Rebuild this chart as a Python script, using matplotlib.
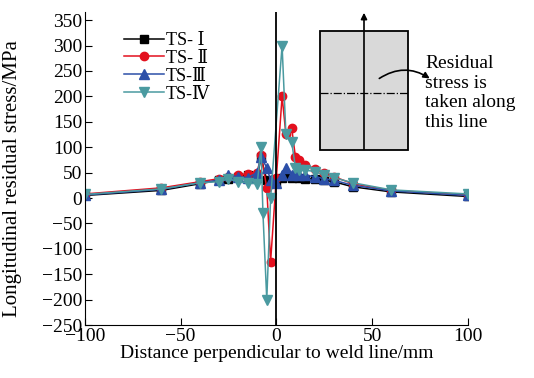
import numpy as np
import matplotlib.pyplot as plt
from matplotlib.patches import Rectangle, FancyArrowPatch

plt.rcParams['font.family'] = ['Liberation Serif', 'DejaVu Serif']

# data
x1 = [-100, -60, -40, -30, -25, -20, -15, -10, -8, -5, -3, 0, 3, 5, 8, 10, 12, 15, 20, 25, 30, 40, 60, 100]
ts1 = [5, 15, 28, 35, 38, 42, 45, 40, 80, 35, 30, 30, 40, 45, 40, 42, 40, 38, 38, 35, 32, 22, 12, 3]

x2 = [-100, -60, -40, -30, -25, -20, -15, -10, -8, -5, -3, 0, 3, 5, 8, 10, 12, 15, 20, 25, 30, 40, 60, 100]
ts2 = [8, 20, 32, 38, 42, 45, 48, 50, 85, 20, -125, 40, 200, 125, 138, 80, 75, 65, 58, 50, 42, 28, 15, 6]

x3 = [-100, -60, -40, -30, -25, -20, -15, -10, -8, -5, -3, 0, 3, 5, 8, 10, 12, 15, 20, 25, 30, 40, 60, 100]
ts3 = [6, 17, 30, 35, 45, 42, 40, 50, 80, 60, 35, 30, 45, 60, 45, 50, 45, 45, 42, 38, 35, 25, 14, 5]

x4 = [-100, -60, -40, -30, -25, -20, -15, -10, -8, -7, -5, -3, 3, 5, 8, 10, 12, 15, 20, 25, 30, 40, 60, 100]
ts4 = [7, 18, 30, 32, 38, 32, 30, 28, 100, -30, -200, 0, 300, 125, 110, 60, 55, 55, 52, 45, 40, 30, 16, 8]

labels = ['TS- Ⅰ', 'TS- Ⅱ', 'TS-Ⅲ', 'TS-Ⅳ']

fig = plt.figure(figsize=(5.34, 3.78), dpi=100)
ax = fig.add_axes([0.159, 0.140, 0.717, 0.827])

ax.plot(x1, ts1, '-s', color='black', ms=5.5, lw=1.1, label=labels[0])
ax.plot(x2, ts2, '-o', color='#e3101e', ms=6, lw=1.1, label=labels[1])
ax.plot(x3, ts3, '-^', color='#2c4fa8', ms=6.5, lw=1.1, label=labels[2])
ax.plot(x4, ts4, '-v', color='#4a9aa0', ms=6.5, lw=1.1, label=labels[3])

ax.axvline(0, color='black', lw=1.3)

ax.set_xlim(-100, 100)
ax.set_ylim(-250, 365)
ax.set_xticks([-100, -50, 0, 50, 100])
ax.set_yticks(np.arange(-250, 351, 50))
ax.spines['top'].set_visible(False)
ax.spines['right'].set_visible(False)
ax.tick_params(direction='in', labelsize=14, length=5, pad=2)
ax.set_xlabel('Distance perpendicular to weld line/mm', fontsize=14, labelpad=0)
ax.set_ylabel('Longitudinal residual stress/MPa', fontsize=15)
ax.yaxis.set_label_coords(-0.163, 0.47)

ax.legend(loc='upper left', bbox_to_anchor=(0.06, 0.99), frameon=False,
          fontsize=13, handlelength=2.2, handletextpad=0.1, labelspacing=0.05)

# inset sketch
fig.add_artist(Rectangle((320/534, 1-150/378), 88/534, 119/378, facecolor='#d9d9d9',
                         edgecolor='black', lw=1.3, transform=fig.transFigure))
fig.add_artist(FancyArrowPatch((364/534, 1-152/378), (364/534, 1-10/378),
                               arrowstyle='-|>', mutation_scale=9, color='black', lw=1.2,
                               transform=fig.transFigure))
fig.add_artist(plt.Line2D([320/534, 408/534], [1-93/378, 1-93/378], color='black',
                          lw=0.9, ls='-.', transform=fig.transFigure))
fig.add_artist(FancyArrowPatch((377/534, 1-80/378), (432/534, 1-80/378),
                               connectionstyle='arc3,rad=-0.35', arrowstyle='-|>',
                               mutation_scale=9, color='black', lw=1.2,
                               transform=fig.transFigure))
fig.text(425/534, 1-55/378, 'Residual\nstress is\ntaken along\nthis line', fontsize=14,
         va='top', ha='left', linespacing=1.2)

fig.savefig('out.png', dpi=100)
